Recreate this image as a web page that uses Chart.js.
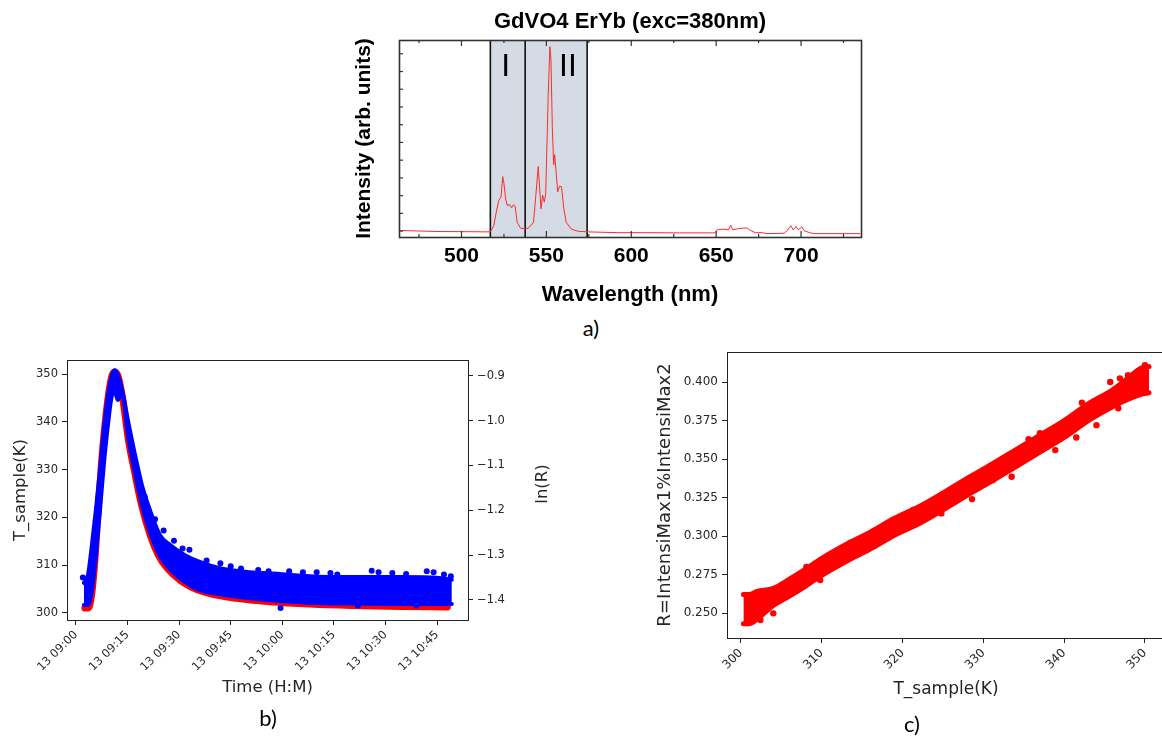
<!DOCTYPE html>
<html><head><meta charset="utf-8">
<script src="https://cdn.jsdelivr.net/npm/chart.js@4.4.0/dist/chart.umd.min.js"></script>
<style>
html,body{margin:0;padding:0;background:#fff;width:1162px;height:738px;overflow:hidden;}
#wrap{position:relative;width:1162px;height:738px;overflow:hidden;}
canvas{position:absolute;}
.lbl{position:absolute;font-family:Lato,"Liberation Sans",sans-serif;font-size:22px;color:#000;line-height:1;transform:translate(-50%,-50%);white-space:nowrap;}
</style></head><body><div id="wrap">
<canvas id="ca" width="540" height="310" style="left:340px;top:0px;width:540px;height:310px"></canvas>
<canvas id="cb" width="570" height="398" style="left:0px;top:340px;width:570px;height:398px"></canvas>
<canvas id="cc" width="540" height="398" style="left:640px;top:340px;width:540px;height:398px"></canvas>
<div class="lbl" style="left:591px;top:328px">a)</div>
<div class="lbl" style="left:268px;top:718px">b)</div>
<div class="lbl" style="left:912px;top:724px">c)</div>
</div>
<script>
// ---------- Panel a: spectrum ----------
const specWavelength = [464, 485, 517, 519, 520.5, 522, 523.3, 524.3, 525, 526, 527, 528.3, 529.5, 530.6, 531.6, 532.8, 534.8, 537.8, 539.8, 542.4, 543.8, 545.2, 546, 546.8, 547.8, 548.8, 549.6, 550.4, 551.1, 552.1, 552.7, 553.5, 554.3, 554.9, 555.7, 556.7, 557.7, 558.9, 560.3, 561.7, 564.7, 568.7, 574.6, 592.5, 608.5, 628.4, 649.3, 650.6, 654.2, 657.2, 658.6, 659.8, 663.2, 668.2, 670.2, 673.1, 677.1, 680.1, 690, 692, 694, 695.4, 697, 698.4, 700.4, 702, 705, 708, 735];
const specIntensity = [0.033, 0.028, 0.026, 0.057, 0.126, 0.186, 0.203, 0.306, 0.272, 0.194, 0.160, 0.164, 0.148, 0.164, 0.157, 0.074, 0.045, 0.040, 0.048, 0.074, 0.212, 0.358, 0.255, 0.143, 0.212, 0.177, 0.220, 0.487, 0.728, 0.966, 0.900, 0.556, 0.367, 0.418, 0.332, 0.229, 0.258, 0.255, 0.143, 0.074, 0.040, 0.029, 0.026, 0.022, 0.022, 0.021, 0.021, 0.036, 0.040, 0.036, 0.060, 0.036, 0.043, 0.046, 0.033, 0.022, 0.022, 0.017, 0.019, 0.034, 0.057, 0.036, 0.053, 0.036, 0.052, 0.031, 0.022, 0.017, 0.017];
const aXTicks = [500, 550, 600, 650, 700];
const aXTickLabels = ['500', '550', '600', '650', '700'];
const aXMinorTicks = [475, 525, 575, 625, 675, 725];
const aYTicks = [0.03, 0.12, 0.21, 0.30, 0.39, 0.48, 0.57, 0.66, 0.75, 0.84, 0.93];
const aRegionEdges = [517, 537.5, 574];
const aRegionLabels = ['I', 'II'];
const aRegionLabelX = [526, 562.7];
const aRegionLabelY = 0.86;

// ---------- Panel b: time series ----------
const bRedTime = [2.6, 3.6, 4.6, 5.5, 6.5, 7.5, 8.9, 10.4, 11.3, 12.3, 13.8, 15.2, 17.2, 19.1, 21.5, 24.4, 28.3, 33.1, 39, 46.7, 56.4, 68, 80, 95, 108];
const bRedTemp = [301.0, 301.0, 304.0, 311, 322, 332, 342.5, 349.5, 350.5, 349.5, 344, 336.5, 329, 322.5, 316.5, 311.5, 308, 305.5, 304, 303, 302.3, 301.8, 301.5, 301.3, 301.2];
const bBlueTime = [2.3, 3.5, 4.65, 5.8, 7.0, 8.1, 9.3, 10.5, 11.3, 12.2, 13.4, 15.1, 17.2, 19.2, 21.5, 24.4, 27.3, 31.7, 36.0, 41.9, 50.6, 59.3, 68.0, 79.7, 94.2, 105.8, 109.3];
const bBlueUpper = [-1.362, -1.344, -1.277, -1.199, -1.110, -1.021, -0.943, -0.898, -0.888, -0.898, -0.932, -0.999, -1.077, -1.144, -1.199, -1.255, -1.277, -1.300, -1.315, -1.329, -1.338, -1.342, -1.347, -1.349, -1.349, -1.351, -1.355];
const bBlueLower = [-1.411, -1.411, -1.378, -1.300, -1.199, -1.099, -1.010, -0.943, -0.936, -0.954, -0.938, -1.032, -1.117, -1.188, -1.248, -1.302, -1.331, -1.360, -1.378, -1.387, -1.396, -1.402, -1.406, -1.408, -1.409, -1.409, -1.409];
const bBlueDotTime = [2.0, 20, 23, 25.5, 28.5, 31, 33, 38, 42, 45, 48, 53, 56, 59.5, 62, 66, 70, 74, 76, 82, 86, 88, 92, 96, 99, 102, 104, 107, 109];
const bBlueDotLnR = [-1.350, -1.170, -1.220, -1.245, -1.268, -1.285, -1.288, -1.312, -1.318, -1.325, -1.330, -1.333, -1.336, -1.418, -1.336, -1.338, -1.338, -1.340, -1.343, -1.412, -1.335, -1.338, -1.340, -1.342, -1.412, -1.336, -1.338, -1.343, -1.347];
const bXTicks = [0, 15, 30, 45, 60, 75, 90, 105];
const bXTickLabels = ['13 09:00', '13 09:15', '13 09:30', '13 09:45', '13 10:00', '13 10:15', '13 10:30', '13 10:45'];
const bYTicks = [300, 310, 320, 330, 340, 350];
const bYTickLabels = ['300', '310', '320', '330', '340', '350'];
const bY1Ticks = [-1.4, -1.3, -1.2, -1.1, -1.0, -0.9];
const bY1TickLabels = ['\u22121.4', '\u22121.3', '\u22121.2', '\u22121.1', '\u22121.0', '\u22120.9'];

// ---------- Panel c: R vs T ----------
const cBandT = [300.3, 301, 302, 304, 306, 308, 310, 313, 316, 319, 322, 325, 328, 331, 334, 337, 340, 343, 346, 348, 349.5, 350.5];
const cBandUpper = [0.262, 0.262, 0.264, 0.266, 0.272, 0.2785, 0.2855, 0.2945, 0.3025, 0.3115, 0.319, 0.328, 0.3375, 0.3465, 0.356, 0.3655, 0.375, 0.386, 0.395, 0.403, 0.409, 0.410];
const cBandLower = [0.243, 0.243, 0.246, 0.255, 0.261, 0.2675, 0.2745, 0.2835, 0.2915, 0.3005, 0.308, 0.317, 0.3265, 0.3355, 0.345, 0.3545, 0.364, 0.375, 0.384, 0.389, 0.392, 0.393];
const cDotT = [311.8, 319, 328.6, 335.6, 341.5, 342.2, 345.7, 347.9, 346.7, 344, 333.5, 331.2, 322.8, 324.8, 313.5, 309.8, 304, 302.4, 308.1, 316.8,
  350, 346.9, 348.5, 345, 342.6, 340.3, 338.9, 337, 335.8, 332.9, 331.2, 328.3, 326.3, 321.3, 319.3, 315.6, 311.8, 309.8, 307.3, 304.8];
const cDotR = [0.2892, 0.3093, 0.324, 0.3628, 0.364, 0.3866, 0.400, 0.4045, 0.383, 0.372, 0.3385, 0.3364, 0.319, 0.3147, 0.2953, 0.2714, 0.2498, 0.2455, 0.280, 0.3039,
  0.411, 0.4024, 0.3927, 0.388, 0.3786, 0.371, 0.3558, 0.3667, 0.3515, 0.3494, 0.3461, 0.3342, 0.3299, 0.3169, 0.3104, 0.2995, 0.2888, 0.280, 0.2736, 0.2649];
const cXTicks = [300, 310, 320, 330, 340, 350];
const cXTickLabels = ['300', '310', '320', '330', '340', '350'];
const cYTicks = [0.25, 0.275, 0.3, 0.325, 0.35, 0.375, 0.4];
const cYTickLabels = ['0.250', '0.275', '0.300', '0.325', '0.350', '0.375', '0.400'];

// ---------- helpers ----------
const pairs = (xs, ys) => xs.map((x, i) => ({x: x, y: ys[i]}));
const setTicks = arr => (s => { s.ticks = arr.map(v => ({value: v})); });
const ARIAL = '"Liberation Sans", Arial, sans-serif';
const DJV = '"DejaVu Sans", sans-serif';
const TXT = '#262626';

const framePlugin = {
  id: 'frame',
  afterDatasetsDraw(chart, args, opts) {
    const {ctx, chartArea: a} = chart;
    ctx.save();
    ctx.strokeStyle = opts.color || '#000';
    ctx.lineWidth = opts.width || 1;
    ctx.strokeRect(Math.round(a.left) + 0.5, Math.round(a.top) + 0.5, Math.round(a.right - a.left), Math.round(a.bottom - a.top));
    ctx.restore();
  }
};

const regionPlugin = {
  id: 'regions',
  beforeDatasetsDraw(chart) {
    const {ctx, chartArea: a, scales: {x, y}} = chart;
    const x0 = x.getPixelForValue(aRegionEdges[0]);
    const x2 = x.getPixelForValue(aRegionEdges[aRegionEdges.length - 1]);
    ctx.save();
    ctx.fillStyle = '#d4dbe4';
    ctx.fillRect(x0, a.top, x2 - x0, a.bottom - a.top);
    ctx.strokeStyle = '#111';
    ctx.lineWidth = 1.6;
    aRegionEdges.forEach(v => {
      const px = x.getPixelForValue(v);
      ctx.beginPath(); ctx.moveTo(px, a.top); ctx.lineTo(px, a.bottom); ctx.stroke();
    });
    ctx.fillStyle = '#000';
    ctx.font = '32px ' + ARIAL;
    ctx.textAlign = 'center';
    ctx.textBaseline = 'middle';
    aRegionLabels.forEach((t, i) => {
      ctx.fillText(t, x.getPixelForValue(aRegionLabelX[i]), y.getPixelForValue(aRegionLabelY));
    });
    ctx.restore();
  },
  afterDatasetsDraw(chart) {
    const {ctx, chartArea: a, scales: {x, y}} = chart;
    ctx.save();
    ctx.strokeStyle = '#333';
    ctx.lineWidth = 1.2;
    const line = (x1, y1, x2, y2) => { ctx.beginPath(); ctx.moveTo(x1, y1); ctx.lineTo(x2, y2); ctx.stroke(); };
    aXTicks.forEach(v => { const p = x.getPixelForValue(v); line(p, a.bottom, p, a.bottom - 6); line(p, a.top, p, a.top + 6); });
    aXMinorTicks.forEach(v => { const p = x.getPixelForValue(v); line(p, a.bottom, p, a.bottom - 3); line(p, a.top, p, a.top + 3); });
    aYTicks.forEach(v => { const p = y.getPixelForValue(v); line(a.left, p, a.left + 4, p); });
    ctx.restore();
  }
};

const lnRTitlePlugin = {
  id: 'lnrTitle',
  afterDraw(chart) {
    const {ctx, chartArea: a, scales: {y1}} = chart;
    ctx.save();
    ctx.translate(y1.right - 27, (a.top + a.bottom) / 2 - 6);
    ctx.rotate(-Math.PI / 2);
    ctx.fillStyle = TXT;
    ctx.font = '16.5px ' + DJV;
    ctx.textAlign = 'center';
    ctx.textBaseline = 'middle';
    ctx.fillText('ln(R)', 0, 0);
    ctx.restore();
  }
};

const common = {responsive: false, animation: false, devicePixelRatio: 1, events: []};

// ---------- Chart a ----------
new Chart(document.getElementById('ca'), {
  type: 'line',
  data: {datasets: [{
    data: pairs(specWavelength, specIntensity),
    borderColor: '#ff2b2b', borderWidth: 1, pointRadius: 0, tension: 0
  }]},
  options: Object.assign({}, common, {
    layout: {padding: {left: 0, right: 19, top: 0, bottom: 0}},
    plugins: {
      legend: {display: false}, tooltip: {enabled: false},
      title: {display: true, text: 'GdVO4 ErYb (exc=380nm)', fullSize: false, color: '#000',
        font: {family: ARIAL, size: 22, weight: 'bold'}, padding: {top: 8.8, bottom: 4.8}},
      frame: {color: '#333', width: 1.6}
    },
    scales: {
      x: {type: 'linear', min: 463.2, max: 735.3,
        afterBuildTicks: setTicks(aXTicks),
        ticks: {callback: (v, i) => aXTickLabels[i], color: '#000', font: {family: ARIAL, size: 21, weight: 'bold'}, padding: 6.5, maxRotation: 0, minRotation: 0, autoSkip: false},
        grid: {display: false, drawTicks: false, tickLength: 0}, border: {display: false},
        title: {display: true, text: 'Wavelength (nm)', color: '#000', font: {family: ARIAL, size: 22, weight: 'bold'}, padding: {top: 0, bottom: 1.8}},
        afterFit: s => { s.height = 73; }
      },
      y: {type: 'linear', min: 0, max: 1,
        ticks: {display: false}, grid: {display: false, drawTicks: false, tickLength: 0}, border: {display: false},
        title: {display: true, text: 'Intensity (arb. units)', color: '#000', font: {family: ARIAL, size: 21, weight: 'bold'}, padding: {top: 11.9, bottom: 0}},
        afterFit: s => { s.width = 59; }
      }
    }
  }),
  plugins: [regionPlugin, framePlugin]
});

// ---------- Chart b ----------
const tickGrid = {drawOnChartArea: false, drawTicks: true, tickLength: 5, tickColor: '#222', lineWidth: 1};
new Chart(document.getElementById('cb'), {
  type: 'line',
  data: {datasets: [
    {label: 'T', yAxisID: 'y', data: pairs(bRedTime, bRedTemp), borderColor: '#ff0000', borderWidth: 7,
      pointRadius: 0, cubicInterpolationMode: 'monotone', borderCapStyle: 'round', borderJoinStyle: 'round', order: 3, fill: false},
    {label: 'lnR upper', yAxisID: 'y1', data: pairs(bBlueTime, bBlueUpper), borderColor: '#0000ff', borderWidth: 4,
      pointRadius: 0, cubicInterpolationMode: 'monotone', borderCapStyle: 'round', borderJoinStyle: 'round', order: 2, fill: false},
    {label: 'lnR lower', yAxisID: 'y1', data: pairs(bBlueTime, bBlueLower), borderColor: '#0000ff', borderWidth: 4,
      pointRadius: 0, cubicInterpolationMode: 'monotone', borderCapStyle: 'round', borderJoinStyle: 'round', order: 2,
      fill: '-1', backgroundColor: '#0000ff'},
    {label: 'lnR pts', yAxisID: 'y1', data: pairs(bBlueDotTime, bBlueDotLnR), showLine: false, pointRadius: 3,
      pointBackgroundColor: '#0000ff', pointBorderWidth: 0, order: 1}
  ]},
  options: Object.assign({}, common, {
    layout: {padding: {left: 0, right: 0, top: 20, bottom: 0}},
    plugins: {legend: {display: false}, tooltip: {enabled: false}, frame: {color: '#222', width: 1}},
    scales: {
      x: {type: 'linear', min: -2.6, max: 114,
        afterBuildTicks: setTicks(bXTicks),
        ticks: {callback: (v, i) => bXTickLabels[i], color: TXT, font: {family: DJV, size: 11.5}, padding: 3, minRotation: 45, maxRotation: 45, autoSkip: false},
        grid: tickGrid, border: {display: false},
        title: {display: true, text: 'Time (H:M)', color: TXT, font: {family: DJV, size: 16.5}, padding: {top: 0, bottom: 40}},
        afterFit: s => { s.height = 118; }
      },
      y: {type: 'linear', position: 'left', min: 298.47, max: 353,
        afterBuildTicks: setTicks(bYTicks),
        ticks: {callback: (v, i) => bYTickLabels[i], color: TXT, font: {family: DJV, size: 11.5}, padding: 4},
        grid: tickGrid, border: {display: false},
        title: {display: true, text: 'T_sample(K)', color: TXT, font: {family: DJV, size: 16.5}, padding: {top: 10.5, bottom: 0}},
        afterFit: s => { s.width = 67; }
      },
      y1: {type: 'linear', position: 'right', min: -1.4446, max: -0.865,
        afterBuildTicks: setTicks(bY1Ticks),
        ticks: {callback: (v, i) => bY1TickLabels[i], color: TXT, font: {family: DJV, size: 11.5}, padding: 4},
        grid: tickGrid, border: {display: false},
        afterFit: s => { s.width = 102; }
      }
    }
  }),
  plugins: [framePlugin, lnRTitlePlugin]
});

// ---------- Chart c ----------
new Chart(document.getElementById('cc'), {
  type: 'line',
  data: {datasets: [
    {label: 'upper', data: pairs(cBandT, cBandUpper), borderColor: '#ff0000', borderWidth: 5, pointRadius: 0,
      cubicInterpolationMode: 'monotone', borderCapStyle: 'round', borderJoinStyle: 'round', order: 2, fill: false},
    {label: 'lower', data: pairs(cBandT, cBandLower), borderColor: '#ff0000', borderWidth: 5, pointRadius: 0,
      cubicInterpolationMode: 'monotone', borderCapStyle: 'round', borderJoinStyle: 'round', order: 2,
      fill: '-1', backgroundColor: '#ff0000'},
    {label: 'pts', data: pairs(cDotT, cDotR), showLine: false, pointRadius: 3.2, pointBackgroundColor: '#ff0000', pointBorderWidth: 0, order: 1}
  ]},
  options: Object.assign({}, common, {
    layout: {padding: {left: 0, right: 15, top: 12, bottom: 0}},
    plugins: {legend: {display: false}, tooltip: {enabled: false}, frame: {color: '#222', width: 1}},
    scales: {
      x: {type: 'linear', min: 298.27, max: 352.48,
        afterBuildTicks: setTicks(cXTicks),
        ticks: {callback: (v, i) => cXTickLabels[i], color: TXT, font: {family: DJV, size: 12}, padding: 3, minRotation: 45, maxRotation: 45, autoSkip: false},
        grid: tickGrid, border: {display: false},
        title: {display: true, text: 'T_sample(K)', color: TXT, font: {family: DJV, size: 17}, padding: {top: 0, bottom: 37.8}},
        afterFit: s => { s.height = 100; }
      },
      y: {type: 'linear', min: 0.2338, max: 0.4195,
        afterBuildTicks: setTicks(cYTicks),
        ticks: {callback: (v, i) => cYTickLabels[i], color: TXT, font: {family: DJV, size: 12}, padding: 4},
        grid: tickGrid, border: {display: false},
        title: {display: true, text: 'R=IntensiMax1%IntensiMax2', color: TXT, font: {family: DJV, size: 18}, padding: {top: 14.2, bottom: 0}},
        afterFit: s => { s.width = 87; }
      }
    }
  }),
  plugins: [framePlugin]
});
</script>
</body></html>
